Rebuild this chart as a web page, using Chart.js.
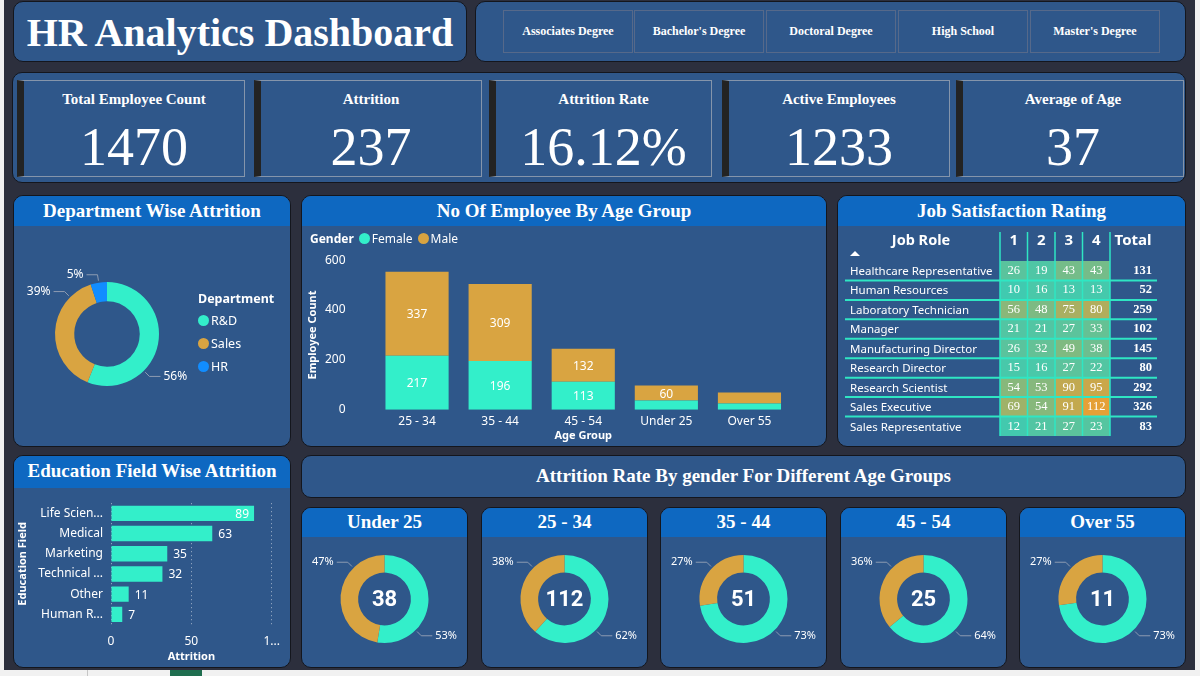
<!DOCTYPE html>
<html>
<head>
<meta charset="utf-8">
<title>HR Analytics Dashboard</title>
<script src="https://cdn.jsdelivr.net/npm/chart.js@4.4.1/dist/chart.umd.min.js"></script>
<style>
  body { margin:0; width:1200px; height:676px; background:#2c2f3d; position:relative; overflow:hidden; font-family:'Liberation Serif', serif; color:#fff; }
  .strip { position:absolute; background:#f1f1f1; }
  .panel { position:absolute; box-sizing:border-box; background:#2f578a; border:1.5px solid #14161d; border-radius:10px; overflow:hidden; }
  .head { position:absolute; left:0; right:0; top:0; background:#0e68c1; font-weight:bold; text-align:center; font-size:19px; }
  canvas { position:absolute; }
  .card { position:absolute; top:80px; height:97px; box-sizing:border-box; border:1px solid #8595ab; border-left:7px solid #232323; text-align:center; }
  .card .lbl { position:absolute; left:0; right:0; top:8px; font-size:15px; font-weight:bold; line-height:20px; }
  .card .val { position:absolute; left:0; right:0; top:36px; font-size:54px; line-height:60px; }
  .btn { position:absolute; top:10px; height:43px; width:130px; box-sizing:border-box; border:1px solid #56698a; text-align:center; line-height:41px; font-size:12px; font-weight:bold; }
  .leg { position:absolute; font-family:'Noto Sans', sans-serif; font-size:12px; white-space:nowrap; }
  .dot { display:inline-block; width:11px; height:11px; border-radius:50%; margin-right:2px; vertical-align:-1px; }
</style>
</head>
<body>
<div class="strip" style="left:0;top:0;width:4px;height:676px"></div>
<div class="strip" style="left:1195px;top:0;width:5px;height:676px"></div>
<div class="strip" style="left:0;top:670px;width:1200px;height:6px"></div>
<div style="position:absolute;left:87px;top:670px;width:1px;height:6px;background:#c6c6c6"></div>
<div style="position:absolute;left:170px;top:670px;width:32px;height:6px;background:#1f6e4f"></div>

<div class="panel" style="left:13px;top:1px;width:454px;height:61px">
  <div style="position:absolute;left:0;right:0;top:8px;text-align:center;font-size:40px;font-weight:bold;line-height:46px">HR Analytics Dashboard</div>
</div>
<div class="panel" style="left:475px;top:1px;width:711px;height:61px"></div>
<div id="slicer"></div>

<div class="panel" style="left:12px;top:72px;width:1174px;height:111px"></div>
<div id="kpis"></div>

<div class="panel" style="left:13px;top:195px;width:278px;height:252px"><div class="head" style="height:30px;line-height:29px">Department Wise Attrition</div></div>
<div class="panel" style="left:301px;top:195px;width:526px;height:252px"><div class="head" style="height:30px;line-height:29px">No Of Employee By Age Group</div></div>
<div class="panel" style="left:837px;top:195px;width:349px;height:252px"><div class="head" style="height:30px;line-height:29px">Job Satisfaction Rating</div></div>
<div class="panel" style="left:13px;top:455px;width:278px;height:213px"><div class="head" style="height:32px;line-height:30px">Education Field Wise Attrition</div></div>
<div class="panel" style="left:301px;top:455px;width:885px;height:43px">
  <div style="position:absolute;left:0;right:0;top:9px;text-align:center;font-size:19px;font-weight:bold;line-height:22px">Attrition Rate By gender For Different Age Groups</div>
</div>
<div id="miniPanels"></div>

<canvas id="deptChart" width="276" height="220" style="left:14px;top:226px"></canvas>
<div id="deptLegend" class="leg" style="left:198px;top:289px"></div>
<canvas id="ageChart" width="524" height="224" style="left:302px;top:223px"></canvas>
<div id="ageLegend" class="leg" style="left:310px;top:230px"></div>
<canvas id="jobChart" width="347" height="220" style="left:838px;top:226px"></canvas>
<canvas id="eduChart" width="276" height="179" style="left:14px;top:488px"></canvas>

<script>
'use strict';

// ---- data ----
const degreeOptions = ['Associates Degree', "Bachelor's Degree", 'Doctoral Degree', 'High School', "Master's Degree"];
const kpiLabels = ['Total Employee Count', 'Attrition', 'Attrition Rate', 'Active Employees', 'Average of Age'];
const kpiValues = ['1470', '237', '16.12%', '1233', '37'];

const departments = ['R&D', 'Sales', 'HR'];
const deptAttrition = [133, 92, 12];

const ageGroups = ['25 - 34', '35 - 44', '45 - 54', 'Under 25', 'Over 55'];
const genders = ['Female', 'Male'];
const femaleByAge = [217, 196, 113, 37, 25];
const maleByAge = [337, 309, 132, 60, 44];

const jobRoles = ['Healthcare Representative', 'Human Resources', 'Laboratory Technician', 'Manager',
  'Manufacturing Director', 'Research Director', 'Research Scientist', 'Sales Executive', 'Sales Representative'];
const ratingLevels = ['1', '2', '3', '4'];
const rating1 = [26, 10, 56, 21, 26, 15, 54, 69, 12];
const rating2 = [19, 16, 48, 21, 32, 16, 53, 54, 21];
const rating3 = [43, 13, 75, 27, 49, 27, 90, 91, 27];
const rating4 = [43, 13, 80, 33, 38, 22, 95, 112, 23];

const eduFields = ['Life Sciences', 'Medical', 'Marketing', 'Technical Degree', 'Other', 'Human Resources'];
const eduAttrition = [89, 63, 35, 32, 11, 7];

const attrAgeGroups = ['Under 25', '25 - 34', '35 - 44', '45 - 54', 'Over 55'];
const maleAttrition = [20, 69, 37, 16, 8];
const femaleAttrition = [18, 43, 14, 9, 3];

// ---- look ----
const SANS = "'Noto Sans', 'Open Sans', sans-serif";
const SERIF = "'Liberation Serif', serif";
const TEAL = '#33efca';
const GOLD = '#d9a441';
const BLUE = '#118dff';
const LINE_TEAL = '#2fe6c3';

Chart.defaults.font.family = SANS;
Chart.defaults.color = '#ffffff';
Chart.defaults.animation = false;
Chart.defaults.plugins.legend.display = false;
Chart.defaults.plugins.tooltip.enabled = false;

// slicer + kpi cards
const btnLeft = [503, 634, 766, 898, 1030];
document.getElementById('slicer').innerHTML = degreeOptions.map((d, i) =>
  '<div class="btn" style="left:' + btnLeft[i] + 'px">' + d + '</div>').join('');
const cardLeft = [17, 254, 489, 722, 956];
const cardW = [228, 228, 223, 228, 228];
document.getElementById('kpis').innerHTML = kpiLabels.map((l, i) =>
  '<div class="card" style="left:' + cardLeft[i] + 'px;width:' + cardW[i] + 'px"><div class="lbl">' + l +
  '</div><div class="val">' + kpiValues[i] + '</div></div>').join('');

// legends
const deptColors = [TEAL, GOLD, BLUE];
document.getElementById('deptLegend').innerHTML = '<div style="font-weight:bold;font-size:12.5px;line-height:20px">Department</div>' +
  departments.map((d, i) => '<div style="font-size:12.5px;line-height:23px"><span class="dot" style="background:' + deptColors[i] + '"></span>' + d + '</div>').join('');
document.getElementById('ageLegend').innerHTML = '<b style="margin-right:5px">Gender</b>' +
  genders.map((g, i) => '<span class="dot" style="background:' + [TEAL, GOLD][i] + '"></span>' + g).join('<span style="margin-right:5px"></span>');

// mini panels
const miniLeft = [301, 481, 660, 840, 1019];
document.getElementById('miniPanels').innerHTML = attrAgeGroups.map((g, i) =>
  '<div class="panel" style="left:' + miniLeft[i] + 'px;top:507px;width:167px;height:161px"><div class="head" style="height:29px;line-height:28px">' + g + '</div></div>' +
  '<canvas id="mini' + i + '" width="165" height="130" style="left:' + (miniLeft[i] + 1) + 'px;top:537px"></canvas>').join('');

// ---- plugins ----
function sum(a) { return a.reduce((s, v) => s + v, 0); }

// Power BI style outside labels with a leader line
const leaderLabels = {
  id: 'leaderLabels',
  afterDatasetsDraw(chart, args, opts) {
    const ctx = chart.ctx;
    const data = chart.data.datasets[0].data;
    const total = sum(data);
    const diag = [0.25, 0.75, 1.25, 1.75].map(d => d * Math.PI);
    ctx.save();
    ctx.font = (opts.size || 12) + 'px ' + SANS;
    ctx.textBaseline = 'middle';
    chart.getDatasetMeta(0).data.forEach((arc, i) => {
      const s = arc.startAngle + Math.PI / 2, e = arc.endAngle + Math.PI / 2;
      const mid = (s + e) / 2;
      const best = diag.reduce((b, d) => Math.abs(d - mid) < Math.abs(b - mid) ? d : b);
      const m = Math.min(0.25, (e - s) / 2);
      const a = Math.min(Math.max(best, s + m), e - m) - Math.PI / 2;
      const r = arc.outerRadius;
      const x0 = arc.x + Math.cos(a) * (r + 2), y0 = arc.y + Math.sin(a) * (r + 2);
      const x1 = arc.x + Math.cos(a) * (r + 8), y1 = arc.y + Math.sin(a) * (r + 8);
      const dir = Math.cos(a) >= 0 ? 1 : -1;
      const x2 = x1 + dir * 11;
      ctx.strokeStyle = '#8d9bb2';
      ctx.lineWidth = 1;
      ctx.beginPath();
      ctx.moveTo(x0, y0); ctx.lineTo(x1, y1); ctx.lineTo(x2, y1);
      ctx.stroke();
      ctx.fillStyle = '#fff';
      ctx.textAlign = dir > 0 ? 'left' : 'right';
      ctx.fillText(Math.round(data[i] / total * 100) + '%', x2 + dir * 3, y1);
    });
    ctx.restore();
  }
};

const centerTotal = {
  id: 'centerTotal',
  afterDatasetsDraw(chart) {
    const arc = chart.getDatasetMeta(0).data[0];
    const ctx = chart.ctx;
    ctx.save();
    ctx.font = 'bold 22px Roboto, ' + SANS;
    ctx.fillStyle = '#fff';
    ctx.textAlign = 'center';
    ctx.textBaseline = 'middle';
    ctx.fillText(sum(chart.data.datasets[0].data), arc.x, arc.y + 1);
    ctx.restore();
  }
};

// ---- department donut ----
new Chart(document.getElementById('deptChart'), {
  type: 'doughnut',
  data: {
    labels: departments,
    datasets: [{ data: deptAttrition, backgroundColor: deptColors, borderWidth: 0 }]
  },
  options: {
    responsive: false,
    cutout: '63%',
    layout: { padding: { left: 41, top: 56, right: 131, bottom: 60 } },
    plugins: { leaderLabels: { size: 12 } }
  },
  plugins: [leaderLabels]
});

// ---- employees by age group ----
const segLabels = {
  id: 'segLabels',
  afterDatasetsDraw(chart) {
    const ctx = chart.ctx;
    ctx.save();
    ctx.font = '12px ' + SANS;
    ctx.fillStyle = '#fff';
    ctx.textAlign = 'center';
    ctx.textBaseline = 'middle';
    chart.data.datasets.forEach((ds, i) => {
      chart.getDatasetMeta(i).data.forEach((bar, j) => {
        if (Math.abs(bar.base - bar.y) < 14) return;
        ctx.fillText(ds.data[j], bar.x, (bar.y + bar.base) / 2 + 1);
      });
    });
    ctx.restore();
  }
};

new Chart(document.getElementById('ageChart'), {
  type: 'bar',
  data: {
    labels: ageGroups,
    datasets: [
      { label: genders[0], data: femaleByAge, backgroundColor: TEAL },
      { label: genders[1], data: maleByAge, backgroundColor: GOLD }
    ]
  },
  options: {
    responsive: false,
    layout: { padding: { left: 0, top: 30, right: 35, bottom: 0 } },
    datasets: { bar: { barPercentage: 0.76, categoryPercentage: 1 } },
    scales: {
      x: {
        stacked: true,
        grid: { display: false, drawTicks: false },
        border: { display: false },
        ticks: { font: { size: 12 }, padding: 5 },
        title: { display: true, text: 'Age Group', font: { size: 11, weight: 'bold' }, padding: { top: 0, bottom: 3 } },
        afterFit(s) { s.height = 36; }
      },
      y: {
        stacked: true,
        min: 0, max: 600,
        grid: { display: false, drawTicks: false },
        border: { display: false },
        ticks: { stepSize: 200, font: { size: 12 }, padding: 30 },
        title: { display: true, text: 'Employee Count', font: { size: 11, weight: 'bold' }, padding: { top: 4, bottom: 0 } },
        afterFit(s) { s.width = 73.5; }
      }
    }
  },
  plugins: [segLabels]
});

// ---- job satisfaction matrix ----
const ratings = [rating1, rating2, rating3, rating4];
const allRatings = ratings.flat();
const lo = Math.min(...allRatings), hi = Math.max(...allRatings);
function heat(v) {
  const t = (v - lo) / (hi - lo);
  const c0 = [64, 202, 176], c1 = [229, 160, 54];
  return 'rgb(' + c0.map((c, k) => Math.round(c + (c1[k] - c) * t)).join(',') + ')';
}

const matrixText = {
  id: 'matrixText',
  afterDatasetsDraw(chart) {
    const { ctx, chartArea } = chart;
    const x = chart.scales.x, y = chart.scales.y;
    const line = (a, b, c, d) => { ctx.beginPath(); ctx.moveTo(a, b); ctx.lineTo(c, d); ctx.stroke(); };
    ctx.save();
    ctx.strokeStyle = LINE_TEAL;
    ctx.lineWidth = 2;
    for (let i = 0; i < jobRoles.length - 1; i++) {
      const yy = (y.getPixelForValue(i) + y.getPixelForValue(i + 1)) / 2;
      line(7, yy, 319, yy);
    }
    ctx.lineWidth = 1.5;
    for (let k = 0; k <= ratingLevels.length; k++) {
      const xx = x.getPixelForValue(k);
      line(xx, 6, xx, chartArea.bottom);
    }
    ctx.fillStyle = '#fff';
    ctx.textBaseline = 'middle';
    // header
    ctx.font = 'bold 14.5px ' + SANS;
    ctx.textAlign = 'center';
    ctx.fillText('Job Role', 83, 15);
    ctx.font = 'bold 15px ' + SANS;
    ratingLevels.forEach((r, k) => ctx.fillText(r, x.getPixelForValue(k + 0.5), 15));
    ctx.fillText('Total', 295, 15);
    ctx.beginPath();
    ctx.moveTo(12, 30); ctx.lineTo(17, 25); ctx.lineTo(22, 30); ctx.closePath();
    ctx.fill();
    // rows
    jobRoles.forEach((role, i) => {
      const yy = y.getPixelForValue(i);
      ctx.textAlign = 'left';
      ctx.font = '11.5px ' + SANS;
      ctx.fillText(role, 12, yy + 1);
      ctx.textAlign = 'center';
      ctx.font = '12.5px ' + SERIF;
      ratings.forEach((col, k) => ctx.fillText(col[i], x.getPixelForValue(k + 0.5), yy));
      ctx.textAlign = 'right';
      ctx.font = 'bold 12.5px ' + SERIF;
      ctx.fillText(sum(ratings.map(col => col[i])), 314, yy);
    });
    ctx.restore();
  }
};

new Chart(document.getElementById('jobChart'), {
  type: 'bar',
  data: {
    labels: jobRoles,
    datasets: ratings.map((col, k) => ({
      label: ratingLevels[k],
      data: jobRoles.map(() => [k, k + 1]),
      backgroundColor: ctx => heat(col[ctx.dataIndex]),
      grouped: false,
      barPercentage: 1,
      categoryPercentage: 1
    }))
  },
  options: {
    responsive: false,
    indexAxis: 'y',
    layout: { padding: { left: 162, top: 35, right: 75, bottom: 10 } },
    scales: {
      x: { display: false, min: 0, max: ratingLevels.length },
      y: { display: false }
    }
  },
  plugins: [matrixText]
});

// ---- education field ----
const measureCtx = document.createElement('canvas').getContext('2d');
function fitText(text, maxW, font) {
  measureCtx.font = font;
  if (measureCtx.measureText(text).width <= maxW) return text;
  let t = text;
  while (t.length && measureCtx.measureText(t + '...').width > maxW) t = t.slice(0, -1);
  return t + '...';
}

const barEndLabels = {
  id: 'barEndLabels',
  afterDatasetsDraw(chart) {
    const ctx = chart.ctx;
    const data = chart.data.datasets[0].data;
    ctx.save();
    ctx.font = '12px ' + SANS;
    ctx.fillStyle = '#fff';
    ctx.textBaseline = 'middle';
    chart.getDatasetMeta(0).data.forEach((bar, i) => {
      const t = String(data[i]);
      const w = ctx.measureText(t).width;
      if (bar.x + 6 + w > chart.chartArea.right) {
        ctx.textAlign = 'right';
        ctx.fillText(t, bar.x - 5, bar.y + 1);
      } else {
        ctx.textAlign = 'left';
        ctx.fillText(t, bar.x + 6, bar.y + 1);
      }
    });
    ctx.restore();
  }
};

new Chart(document.getElementById('eduChart'), {
  type: 'bar',
  data: {
    labels: eduFields,
    datasets: [{ label: 'Attrition', data: eduAttrition, backgroundColor: TEAL, barPercentage: 0.76, categoryPercentage: 1 }]
  },
  options: {
    responsive: false,
    indexAxis: 'y',
    layout: { padding: { left: 0, top: 9.5, right: 14, bottom: 0 } },
    scales: {
      x: {
        min: 0, max: 100,
        grid: { color: 'rgba(255,255,255,0.55)', lineWidth: 1, drawTicks: false },
        border: { display: false, dash: [1, 3] },
        ticks: {
          stepSize: 50, font: { size: 12 }, padding: 10,
          callback(v) { return v >= this.max ? String(v).slice(0, 1) + '...' : v; }
        },
        title: { display: true, text: 'Attrition', font: { size: 11, weight: 'bold' }, padding: { top: 0, bottom: 4 } },
        afterFit(s) { s.height = 42.5; }
      },
      y: {
        grid: { display: false, drawTicks: false },
        border: { display: false },
        ticks: {
          font: { size: 12 }, padding: 8,
          callback(v) { return fitText(this.getLabelForValue(v), 65, '12px ' + SANS); }
        },
        title: { display: true, text: 'Education Field', font: { size: 11, weight: 'bold' }, padding: { top: 2, bottom: 0 } },
        afterFit(s) { s.width = 97; }
      }
    }
  },
  plugins: [barEndLabels]
});

// ---- attrition by gender per age group ----
attrAgeGroups.forEach((g, i) => {
  new Chart(document.getElementById('mini' + i), {
    type: 'doughnut',
    data: {
      labels: ['Male', 'Female'],
      datasets: [{ data: [maleAttrition[i], femaleAttrition[i]], backgroundColor: [TEAL, GOLD], borderWidth: 0 }]
    },
    options: {
      responsive: false,
      cutout: '60%',
      layout: { padding: { left: 38.5, top: 18, right: 38.5, bottom: 24 } },
      plugins: { leaderLabels: { size: 11 } }
    },
    plugins: [leaderLabels, centerTotal]
  });
});
</script>
</body>
</html>
